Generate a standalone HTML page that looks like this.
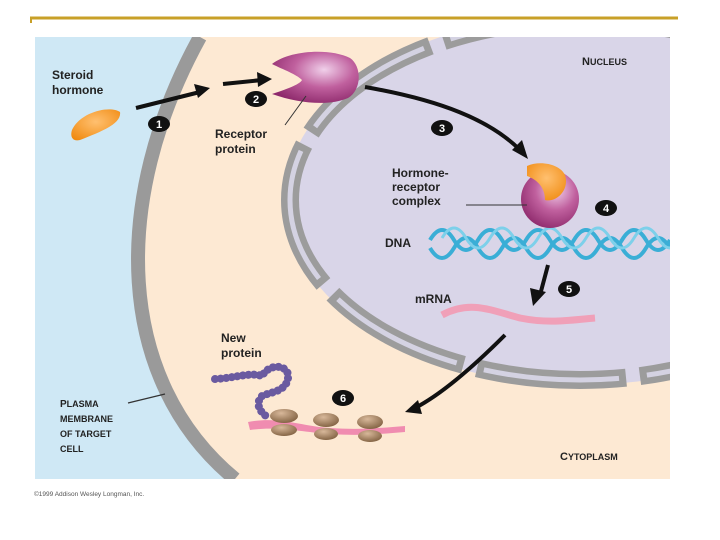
<!DOCTYPE html>
<html><head><style>
body{margin:0;width:720px;height:540px;background:#fff;overflow:hidden;font-family:"Liberation Sans",sans-serif}
svg{position:absolute;left:0;top:0}
</style></head><body>
<svg width="720" height="540" viewBox="0 0 720 540">
<defs>
<clipPath id="c"><rect x="35" y="37" width="635" height="442"/></clipPath>
<radialGradient id="rp" cx="0.6" cy="0.35" r="0.7"><stop offset="0" stop-color="#f0d0ea"/><stop offset="0.5" stop-color="#c0609e"/><stop offset="1" stop-color="#8e2a6c"/></radialGradient>
<radialGradient id="or" cx="0.5" cy="0.4" r="0.7"><stop offset="0" stop-color="#ffc070"/><stop offset="1" stop-color="#f08a10"/></radialGradient>
<radialGradient id="rb" cx="0.4" cy="0.3" r="0.8"><stop offset="0" stop-color="#d8b89a"/><stop offset="1" stop-color="#7a5a3a"/></radialGradient>
</defs>
<line x1="30" y1="18" x2="678" y2="18" stroke="#c8a028" stroke-width="3"/>
<line x1="31" y1="17" x2="31" y2="23" stroke="#c8a028" stroke-width="2"/>
<g clip-path="url(#c)">
<rect x="35" y="37" width="635" height="442" fill="#fde9d3"/>
<path d="M35,37 L200,37 C110,200 115,380 235,479 L35,479 Z" fill="#cfe8f5"/>
<path d="M200,37 C110,200 115,380 235,479" fill="none" stroke="#9a9a9a" stroke-width="14"/>
<ellipse cx="580" cy="200" rx="295" ry="185" fill="#d9d5e8"/>
<ellipse cx="580" cy="200" rx="290" ry="180" fill="none" stroke="#9c9c9c" stroke-width="18" stroke-dasharray="150 14"/>
<ellipse cx="580" cy="200" rx="290" ry="180" fill="none" stroke="#d4d2e2" stroke-width="5" stroke-dasharray="136 28" stroke-dashoffset="-7"/>
<g fill="none" stroke="#3aaed6" stroke-width="4">
<path d="M430,240 q12,-20 24,0 t24,0 t24,0 t24,0 t24,0 t24,0 t24,0 t24,0 t24,0 t24,0"/>
<path d="M430,248 q12,20 24,0 t24,0 t24,0 t24,0 t24,0 t24,0 t24,0 t24,0 t24,0 t24,0"/>
<path d="M442,238 q12,-20 24,0 t24,0 t24,0 t24,0 t24,0 t24,0 t24,0 t24,0 t24,0 t24,0" stroke="#7dd0ea" stroke-width="3"/>
</g>
<path d="M442,315 C470,300 490,310 520,318 C550,324 570,320 595,318" fill="none" stroke="#f0a0b8" stroke-width="7"/>
</g>
<path d="M72,130 C80,112 110,105 120,112 C122,124 100,132 80,140 C72,142 70,136 72,130 Z" fill="url(#or)"/>
<path d="M272,64 C290,50 330,48 350,58 C362,66 362,90 348,98 C330,106 300,104 272,94 C290,88 300,84 302,80 C296,74 284,70 272,64 Z" fill="url(#rp)"/>
<circle cx="550" cy="199" r="29" fill="url(#rp)"/>
<path d="M527,166 C540,160 560,164 565,175 C570,190 556,203 545,200 C545,188 538,180 527,176 Z" fill="url(#or)"/>
<g fill="none" stroke="#111" stroke-width="4">
<path d="M136,108 L200,92"/><path d="M223,84 L262,80"/>
<path d="M365,87 C440,100 490,120 520,150"/>
<path d="M548,265 L540,295"/>
<path d="M505,335 C470,370 440,395 415,408"/>
</g>
<g fill="#111">
<polygon points="210,88 194,84 198,98"/>
<polygon points="272,79 257,72 258,87"/>
<polygon points="528,159 512,150 522,140"/>
<polygon points="533,306 530,288 546,292"/>
<polygon points="405,412 418,400 422,414"/>
</g>
<line x1="306" y1="96" x2="285" y2="125" stroke="#333" stroke-width="1"/>
<line x1="466" y1="205" x2="527" y2="205" stroke="#333" stroke-width="1"/>
<line x1="128" y1="403" x2="165" y2="394" stroke="#333" stroke-width="1.2"/>
<g fill="#111"><ellipse cx="159" cy="124" rx="11" ry="8"/><ellipse cx="256" cy="99" rx="11" ry="8"/><ellipse cx="442" cy="128" rx="11" ry="8"/><ellipse cx="606" cy="208" rx="11" ry="8"/><ellipse cx="569" cy="289" rx="11" ry="8"/><ellipse cx="343" cy="398" rx="11" ry="8"/></g>
<g fill="#fff" font-size="11" font-weight="bold" text-anchor="middle">
<text x="159" y="128">1</text><text x="256" y="103">2</text><text x="442" y="132">3</text><text x="606" y="212">4</text><text x="569" y="293">5</text><text x="343" y="402">6</text></g>
<g fill="none" stroke="#6a5aa0" stroke-width="8" stroke-linecap="round" stroke-dasharray="0.1 5.5">
<path d="M215,379 C235,378 250,372 262,376 C270,362 290,365 288,378 C286,392 270,392 262,396 C256,402 258,410 266,416"/>
</g>
<path d="M248,422 C280,416 300,426 330,428 C360,430 380,428 405,426 L405,432 C380,434 360,436 330,434 C300,432 280,426 250,430 Z" fill="#f08cb0"/>
<g fill="url(#rb)"><ellipse cx="284" cy="416" rx="14" ry="7"/><ellipse cx="284" cy="430" rx="13" ry="6"/><ellipse cx="326" cy="420" rx="13" ry="7"/><ellipse cx="326" cy="434" rx="12" ry="6"/><ellipse cx="370" cy="422" rx="13" ry="7"/><ellipse cx="370" cy="436" rx="12" ry="6"/></g>
<g font-weight="bold" font-size="12" fill="#222">
<text x="52" y="79">Steroid</text><text x="52" y="94">hormone</text>
<text x="215" y="138">Receptor</text><text x="215" y="153">protein</text>
<text x="392" y="177">Hormone-</text><text x="392" y="191">receptor</text><text x="392" y="205">complex</text>
<text x="385" y="247">DNA</text>
<text x="415" y="303">mRNA</text>
<text x="221" y="342">New</text><text x="221" y="357">protein</text>
<text x="582" y="65" font-size="11">N<tspan font-size="9">UCLEUS</tspan></text>
<text x="560" y="460" font-size="11">C<tspan font-size="9">YTOPLASM</tspan></text>
<g font-size="10"><text x="60" y="407">P<tspan font-size="9">LASMA</tspan></text><text x="60" y="422" font-size="9">MEMBRANE</text><text x="60" y="437" font-size="9">OF TARGET</text><text x="60" y="452" font-size="9">CELL</text></g>
</g>
<text x="34" y="496" font-size="6.5" fill="#555">©1999 Addison Wesley Longman, Inc.</text>
</svg>
</body></html>
